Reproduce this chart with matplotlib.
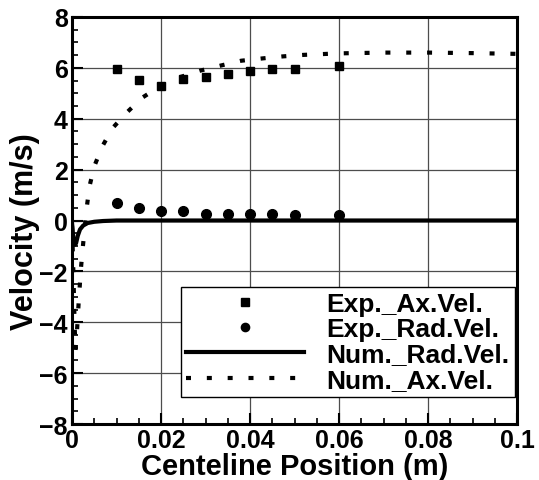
import matplotlib.pyplot as plt
from matplotlib.ticker import MultipleLocator

plt.rcParams['font.family'] = ['Liberation Sans', 'DejaVu Sans']
plt.rcParams['font.weight'] = 'bold'

# experimental points
exp_x = [0.01, 0.015, 0.02, 0.025, 0.03, 0.035, 0.04, 0.045, 0.05, 0.06]
exp_ax = [5.96, 5.51, 5.28, 5.55, 5.63, 5.75, 5.87, 5.95, 5.97, 6.07]
exp_rad = [0.70, 0.50, 0.36, 0.36, 0.25, 0.25, 0.26, 0.24, 0.22, 0.20]

# numerical radial velocity
num_rad_x = [0, 0.0003, 0.0006, 0.0009, 0.0013, 0.0018, 0.0025, 0.0035, 0.005, 0.007, 0.01, 0.02, 0.05, 0.1]
num_rad_y = [-0.1, -0.7, -0.95, -0.9, -0.6, -0.35, -0.2, -0.1, -0.05, -0.02, 0.0, 0.0, 0.0, 0.0]

# numerical axial velocity
num_ax_x = [0, 0.0003, 0.0006, 0.0008, 0.0011, 0.0015, 0.002, 0.0024, 0.0029, 0.0033, 0.0039,
            0.005, 0.0068, 0.0091, 0.0124, 0.0158, 0.02, 0.024, 0.0288, 0.0334, 0.038,
            0.0427, 0.0473, 0.052, 0.06, 0.07, 0.08, 0.09, 0.1]
num_ax_y = [-0.2, -2.0, -4.2, -5.1, -4.4, -3.2, -1.9, -1.1, -0.2, 0.49, 1.32,
            2.13, 2.91, 3.63, 4.26, 4.83, 5.3, 5.62, 5.89, 6.09, 6.28,
            6.37, 6.45, 6.51, 6.57, 6.6, 6.6, 6.58, 6.55]

fig = plt.figure(figsize=(5.39, 4.81), dpi=100)
ax = fig.add_axes([0.1336, 0.1164, 0.8256, 0.8462])

ax.plot(exp_x, exp_ax, 's', color='k', ms=6, label='Exp._Ax.Vel.')
ax.plot(exp_x, exp_rad, 'o', color='k', ms=7, label='Exp._Rad.Vel.')
ax.plot(num_rad_x, num_rad_y, '-', color='k', lw=3, label='Num._Rad.Vel.')
ax.plot(num_ax_x, num_ax_y, color='k', lw=3, ls=(0, (1.2, 3.8)), label='Num._Ax.Vel.')

ax.set_xlim(0, 0.1)
ax.set_ylim(-8, 8)
ax.xaxis.set_minor_locator(MultipleLocator(0.005))
ax.yaxis.set_major_locator(MultipleLocator(2))
ax.yaxis.set_minor_locator(MultipleLocator(0.5))
ax.set_xticks([0, 0.02, 0.04, 0.06, 0.08, 0.1])
ax.set_xticklabels(['0', '0.02', '0.04', '0.06', '0.08', '0.1'])
ax.grid(True, which='major', color='0.3', lw=0.9)
ax.set_axisbelow(True)
ax.tick_params(which='both', direction='in', top=False, right=False, labelsize=18, pad=3)
ax.tick_params(which='major', length=8, width=1.5)
ax.tick_params(which='minor', length=4, width=1.2)
for s in ax.spines.values():
    s.set_linewidth(2.2)

ax.set_xlabel('Centeline Position (m)', fontsize=21, fontweight='bold', labelpad=0)
ax.set_ylabel('Velocity (m/s)', fontsize=22, fontweight='bold')
ax.yaxis.set_label_coords(-0.071, 0.475)

leg = ax.legend(loc='lower right', bbox_to_anchor=(0.9944, 0.0663), fontsize=19,
                frameon=True, fancybox=False, edgecolor='k', framealpha=1,
                handlelength=4.47, handletextpad=0.83, labelspacing=0.05,
                borderpad=0.2, borderaxespad=0, markerscale=0.85)
leg.get_frame().set_linewidth(1.0)

fig.savefig('out.png', dpi=100)
